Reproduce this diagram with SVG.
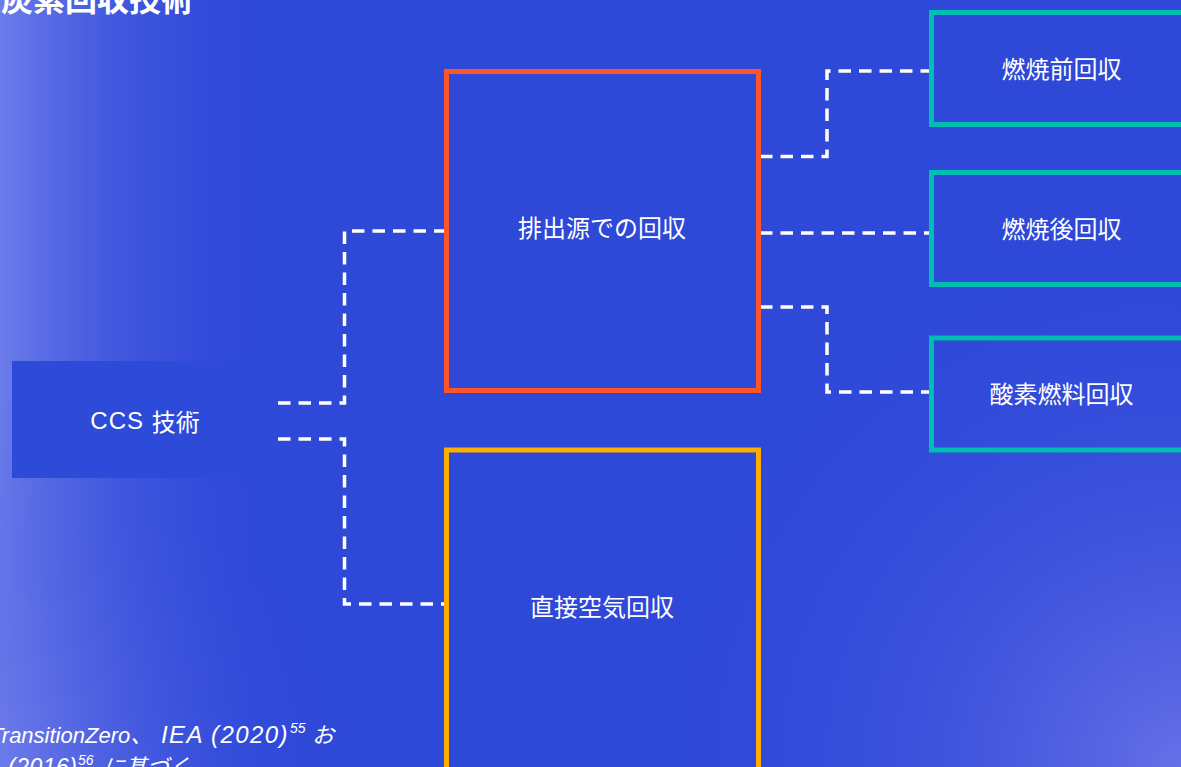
<svg xmlns="http://www.w3.org/2000/svg" width="1181" height="767" viewBox="0 0 1181 767">
  <defs>
    <linearGradient id="leftGlow" x1="0" y1="0" x2="1" y2="0" gradientUnits="objectBoundingBox">
      <stop offset="0" stop-color="#6C7CEB" stop-opacity="1"/>
      <stop offset="0.45" stop-color="#4F62E2" stop-opacity="0.5"/>
      <stop offset="1" stop-color="#2E48D8" stop-opacity="0"/>
    </linearGradient>
    <radialGradient id="brGlow" cx="1181" cy="767" r="560" gradientUnits="userSpaceOnUse">
      <stop offset="0" stop-color="#6670E8" stop-opacity="1"/>
      <stop offset="0.5" stop-color="#4A5CE0" stop-opacity="0.45"/>
      <stop offset="1" stop-color="#2E48D8" stop-opacity="0"/>
    </radialGradient>
    <radialGradient id="blGlow" cx="0" cy="767" r="380" gradientUnits="userSpaceOnUse">
      <stop offset="0" stop-color="#6D78EA" stop-opacity="0.5"/>
      <stop offset="1" stop-color="#2E48D8" stop-opacity="0"/>
    </radialGradient>
    <style>
      .label { font-family: "Noto Sans CJK JP", "Noto Sans", sans-serif; font-size: 24px; fill: #FFFFFF; text-anchor: middle; dominant-baseline: central; }
      .latin { font-family: "Liberation Sans", "Noto Sans CJK JP", sans-serif; }
      .conn { fill: none; stroke: #FFFFFF; stroke-width: 3.5; stroke-dasharray: 12.5 8; }
      .orange { fill: none; stroke: #FF5528; stroke-width: 5; }
      .yellow { fill: none; stroke: #FFAE00; stroke-width: 5; }
      .teal { fill: none; stroke: #00BDB2; stroke-width: 5; }
      .foot { font-family: "Liberation Sans", "Noto Sans CJK JP", sans-serif; font-style: italic; fill: #FFFFFF; }
    </style>
  </defs>

  <!-- background -->
  <rect x="0" y="0" width="1181" height="767" fill="#2E48D8"/>
  <rect x="0" y="0" width="290" height="767" fill="url(#leftGlow)"/>
  <rect x="0" y="0" width="1181" height="767" fill="url(#brGlow)"/>
  <rect x="0" y="0" width="1181" height="767" fill="url(#blGlow)"/>

  <!-- title -->
  <text x="1" y="11" font-family="Noto Sans CJK JP, Noto Sans, sans-serif" font-size="32" font-weight="700" fill="#FFFFFF">炭素回収技術</text>

  <!-- connectors -->
  <g id="connectors">
    <path class="conn" d="M278,403 H344.5 V231 H446"/>
    <path class="conn" d="M278,439 H344.5 V604 H446"/>
    <path class="conn" d="M760,156.5 H827 V71 H931"/>
    <path class="conn" d="M760,233 H931"/>
    <path class="conn" d="M760,307 H827 V392 H931"/>
  </g>

  <!-- nodes -->
  <g id="node-ccs">
    <rect x="12" y="361" width="266" height="117" fill="#2E4AD9"/>
    <text class="label" x="145" y="420"><tspan class="latin" letter-spacing="1">CCS </tspan>技術</text>
  </g>
  <g id="node-point-source">
    <rect class="orange" x="446.5" y="71.5" width="312" height="319"/>
    <text class="label" x="602" y="226">排出源での回収</text>
  </g>
  <g id="node-dac">
    <rect class="yellow" x="446.5" y="450" width="312" height="400"/>
    <text class="label" x="602" y="605">直接空気回収</text>
  </g>
  <g id="node-pre">
    <rect class="teal" x="931.5" y="12.5" width="260" height="112"/>
    <text class="label" x="1061.5" y="67">燃焼前回収</text>
  </g>
  <g id="node-post">
    <rect class="teal" x="931.5" y="172.5" width="260" height="112"/>
    <text class="label" x="1061.5" y="227">燃焼後回収</text>
  </g>
  <g id="node-oxy">
    <rect class="teal" x="931.5" y="338" width="260" height="112"/>
    <text class="label" x="1061.5" y="392">酸素燃料回収</text>
  </g>

  <!-- footnote -->
  <g id="footnote">
    <text class="foot" y="743"><tspan x="-10" font-size="22">TransitionZero、</tspan><tspan x="161" font-size="24" letter-spacing="1.4">IEA (2020)</tspan><tspan x="290" y="733" font-size="14">55</tspan><tspan x="312" y="743" font-size="22">お</tspan></text>
    <text class="foot" y="775"><tspan x="8" font-size="23" letter-spacing="0.5">(2016)</tspan><tspan x="78" y="765" font-size="14">56</tspan><tspan x="103" y="775" font-size="22">に基づく</tspan></text>
  </g>
</svg>
